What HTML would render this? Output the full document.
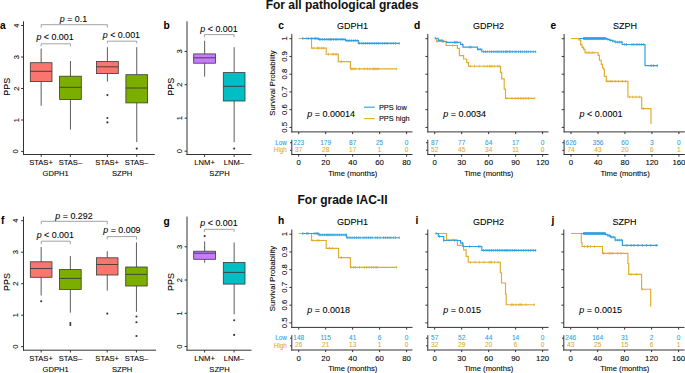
<!DOCTYPE html>
<html><head><meta charset="utf-8"><style>
html,body{margin:0;padding:0;background:#fff;}
svg{display:block;font-family:"Liberation Sans", sans-serif;}
</style></head><body>
<svg width="685" height="373" viewBox="0 0 685 373">
<rect width="685" height="373" fill="#fff"/>
<text x="342" y="8.9" font-size="12" text-anchor="middle" fill="#111" stroke="#111" stroke-width="0.05" font-weight="bold">For all pathological grades</text>
<text x="342.5" y="204.2" font-size="12" text-anchor="middle" fill="#111" stroke="#111" stroke-width="0.05" font-weight="bold">For grade IAC-II</text>
<text x="2.8" y="28.6" font-size="10.2" text-anchor="middle" fill="#000" stroke="#000" stroke-width="0.05" font-weight="bold">a</text>
<text x="9.9" y="86.8" font-size="8.9" text-anchor="middle" fill="#000" stroke="#000" stroke-width="0.08" transform="rotate(-90 9.9 86.8)">PPS</text>
<line x1="23.5" y1="21.3" x2="23.5" y2="155" stroke="#333333" stroke-width="1.0"/>
<line x1="23" y1="154.5" x2="154.8" y2="154.5" stroke="#333333" stroke-width="1.0"/>
<line x1="21.1" y1="151.4" x2="23.5" y2="151.4" stroke="#333333" stroke-width="1.0"/>
<text x="18.5" y="151.4" font-size="7.6" text-anchor="middle" fill="#000" stroke="#000" stroke-width="0.08" transform="rotate(-90 18.5 151.4)">0</text>
<line x1="21.1" y1="120" x2="23.5" y2="120" stroke="#333333" stroke-width="1.0"/>
<text x="18.5" y="120" font-size="7.6" text-anchor="middle" fill="#000" stroke="#000" stroke-width="0.08" transform="rotate(-90 18.5 120)">1</text>
<line x1="21.1" y1="88.5" x2="23.5" y2="88.5" stroke="#333333" stroke-width="1.0"/>
<text x="18.5" y="88.5" font-size="7.6" text-anchor="middle" fill="#000" stroke="#000" stroke-width="0.08" transform="rotate(-90 18.5 88.5)">2</text>
<line x1="21.1" y1="57" x2="23.5" y2="57" stroke="#333333" stroke-width="1.0"/>
<text x="18.5" y="57" font-size="7.6" text-anchor="middle" fill="#000" stroke="#000" stroke-width="0.08" transform="rotate(-90 18.5 57)">3</text>
<line x1="21.1" y1="25.5" x2="23.5" y2="25.5" stroke="#333333" stroke-width="1.0"/>
<text x="18.5" y="25.5" font-size="7.6" text-anchor="middle" fill="#000" stroke="#000" stroke-width="0.08" transform="rotate(-90 18.5 25.5)">4</text>
<line x1="41.2" y1="154.5" x2="41.2" y2="156.8" stroke="#333333" stroke-width="1.0"/>
<line x1="70.4" y1="154.5" x2="70.4" y2="156.8" stroke="#333333" stroke-width="1.0"/>
<line x1="107.4" y1="154.5" x2="107.4" y2="156.8" stroke="#333333" stroke-width="1.0"/>
<line x1="136.7" y1="154.5" x2="136.7" y2="156.8" stroke="#333333" stroke-width="1.0"/>
<text x="41" y="165.4" font-size="7.6" text-anchor="middle" fill="#000" stroke="#000" stroke-width="0.08">STAS+</text>
<text x="70.4" y="165.4" font-size="7.6" text-anchor="middle" fill="#000" stroke="#000" stroke-width="0.08">STAS–</text>
<text x="107.2" y="165.4" font-size="7.6" text-anchor="middle" fill="#000" stroke="#000" stroke-width="0.08">STAS+</text>
<text x="136.6" y="165.4" font-size="7.6" text-anchor="middle" fill="#000" stroke="#000" stroke-width="0.08">STAS–</text>
<text x="55.6" y="176" font-size="7.6" text-anchor="middle" fill="#000" stroke="#000" stroke-width="0.08">GDPH1</text>
<text x="122.1" y="176" font-size="7.6" text-anchor="middle" fill="#000" stroke="#000" stroke-width="0.08">SZPH</text>
<line x1="41.15" y1="48.6" x2="41.15" y2="62.7" stroke="#4a4a4a" stroke-width="0.9"/>
<line x1="41.15" y1="81.6" x2="41.15" y2="105.8" stroke="#4a4a4a" stroke-width="0.9"/>
<rect x="30.3" y="62.7" width="21.7" height="18.9" fill="#F8766D" stroke="#3a3a3a" stroke-width="0.8"/>
<line x1="30.3" y1="71.3" x2="52" y2="71.3" stroke="#3a3a3a" stroke-width="0.9"/>
<line x1="70.45" y1="61" x2="70.45" y2="76.2" stroke="#4a4a4a" stroke-width="0.9"/>
<line x1="70.45" y1="99.5" x2="70.45" y2="129.5" stroke="#4a4a4a" stroke-width="0.9"/>
<rect x="59.6" y="76.2" width="21.7" height="23.3" fill="#7CAE00" stroke="#3a3a3a" stroke-width="0.8"/>
<line x1="59.6" y1="87.3" x2="81.3" y2="87.3" stroke="#3a3a3a" stroke-width="0.9"/>
<line x1="107.4" y1="47.2" x2="107.4" y2="61.5" stroke="#4a4a4a" stroke-width="0.9"/>
<line x1="107.4" y1="73.6" x2="107.4" y2="81.6" stroke="#4a4a4a" stroke-width="0.9"/>
<rect x="96.5" y="61.5" width="21.8" height="12.1" fill="#F8766D" stroke="#3a3a3a" stroke-width="0.8"/>
<line x1="96.5" y1="66.8" x2="118.3" y2="66.8" stroke="#3a3a3a" stroke-width="0.9"/>
<circle cx="107.4" cy="95.1" r="1.05" fill="#333"/>
<circle cx="107.4" cy="118" r="1.05" fill="#333"/>
<circle cx="107.4" cy="122.4" r="1.05" fill="#333"/>
<line x1="136.75" y1="47.2" x2="136.75" y2="74.7" stroke="#4a4a4a" stroke-width="0.9"/>
<line x1="136.75" y1="102.9" x2="136.75" y2="142.1" stroke="#4a4a4a" stroke-width="0.9"/>
<rect x="125.9" y="74.7" width="21.7" height="28.2" fill="#7CAE00" stroke="#3a3a3a" stroke-width="0.8"/>
<line x1="125.9" y1="88" x2="147.6" y2="88" stroke="#3a3a3a" stroke-width="0.9"/>
<circle cx="136.75" cy="148.6" r="1.05" fill="#333"/>
<path d="M41.2 46.4 V43.8 H70.4 V46.4" stroke="#8a8a8a" stroke-width="0.8" fill="none" />
<text x="55.05" y="39.6" font-size="8.9" text-anchor="middle" fill="#000" stroke="#000" stroke-width="0.08"><tspan font-style="italic">p</tspan> &lt; 0.001</text>
<path d="M41.2 27.6 V24.7 H107.4 V27.6" stroke="#8a8a8a" stroke-width="0.8" fill="none" />
<text x="73.5" y="21.8" font-size="8.9" text-anchor="middle" fill="#000" stroke="#000" stroke-width="0.08"><tspan font-style="italic">p</tspan> = 0.1</text>
<path d="M107.4 43.4 V41.2 H136.7 V43.4" stroke="#8a8a8a" stroke-width="0.8" fill="none" />
<text x="121.4" y="37.9" font-size="8.9" text-anchor="middle" fill="#000" stroke="#000" stroke-width="0.08"><tspan font-style="italic">p</tspan> &lt; 0.001</text>
<text x="2.8" y="224.1" font-size="10.2" text-anchor="middle" fill="#000" stroke="#000" stroke-width="0.05" font-weight="bold">f</text>
<text x="9.9" y="282" font-size="8.9" text-anchor="middle" fill="#000" stroke="#000" stroke-width="0.08" transform="rotate(-90 9.9 282)">PPS</text>
<line x1="23.5" y1="216.6" x2="23.5" y2="350.7" stroke="#333333" stroke-width="1.0"/>
<line x1="23" y1="350.2" x2="156" y2="350.2" stroke="#333333" stroke-width="1.0"/>
<line x1="21.1" y1="346.6" x2="23.5" y2="346.6" stroke="#333333" stroke-width="1.0"/>
<text x="18.5" y="346.6" font-size="7.6" text-anchor="middle" fill="#000" stroke="#000" stroke-width="0.08" transform="rotate(-90 18.5 346.6)">0</text>
<line x1="21.1" y1="315.2" x2="23.5" y2="315.2" stroke="#333333" stroke-width="1.0"/>
<text x="18.5" y="315.2" font-size="7.6" text-anchor="middle" fill="#000" stroke="#000" stroke-width="0.08" transform="rotate(-90 18.5 315.2)">1</text>
<line x1="21.1" y1="283.7" x2="23.5" y2="283.7" stroke="#333333" stroke-width="1.0"/>
<text x="18.5" y="283.7" font-size="7.6" text-anchor="middle" fill="#000" stroke="#000" stroke-width="0.08" transform="rotate(-90 18.5 283.7)">2</text>
<line x1="21.1" y1="252.2" x2="23.5" y2="252.2" stroke="#333333" stroke-width="1.0"/>
<text x="18.5" y="252.2" font-size="7.6" text-anchor="middle" fill="#000" stroke="#000" stroke-width="0.08" transform="rotate(-90 18.5 252.2)">3</text>
<line x1="21.1" y1="220.7" x2="23.5" y2="220.7" stroke="#333333" stroke-width="1.0"/>
<text x="18.5" y="220.7" font-size="7.6" text-anchor="middle" fill="#000" stroke="#000" stroke-width="0.08" transform="rotate(-90 18.5 220.7)">4</text>
<line x1="41.2" y1="350.2" x2="41.2" y2="352.5" stroke="#333333" stroke-width="1.0"/>
<line x1="70.4" y1="350.2" x2="70.4" y2="352.5" stroke="#333333" stroke-width="1.0"/>
<line x1="107.2" y1="350.2" x2="107.2" y2="352.5" stroke="#333333" stroke-width="1.0"/>
<line x1="136.4" y1="350.2" x2="136.4" y2="352.5" stroke="#333333" stroke-width="1.0"/>
<text x="41" y="361.3" font-size="7.6" text-anchor="middle" fill="#000" stroke="#000" stroke-width="0.08">STAS+</text>
<text x="70.4" y="361.3" font-size="7.6" text-anchor="middle" fill="#000" stroke="#000" stroke-width="0.08">STAS–</text>
<text x="107.2" y="361.3" font-size="7.6" text-anchor="middle" fill="#000" stroke="#000" stroke-width="0.08">STAS+</text>
<text x="136.6" y="361.3" font-size="7.6" text-anchor="middle" fill="#000" stroke="#000" stroke-width="0.08">STAS–</text>
<text x="55.6" y="371.8" font-size="7.6" text-anchor="middle" fill="#000" stroke="#000" stroke-width="0.08">GDPH1</text>
<text x="122.1" y="371.8" font-size="7.6" text-anchor="middle" fill="#000" stroke="#000" stroke-width="0.08">SZPH</text>
<line x1="41.15" y1="247" x2="41.15" y2="261.8" stroke="#4a4a4a" stroke-width="0.9"/>
<line x1="41.15" y1="277.3" x2="41.15" y2="295.5" stroke="#4a4a4a" stroke-width="0.9"/>
<rect x="30.3" y="261.8" width="21.7" height="15.5" fill="#F8766D" stroke="#3a3a3a" stroke-width="0.8"/>
<line x1="30.3" y1="268.5" x2="52" y2="268.5" stroke="#3a3a3a" stroke-width="0.9"/>
<circle cx="41.15" cy="301.3" r="1.05" fill="#333"/>
<line x1="70.35" y1="256" x2="70.35" y2="269.6" stroke="#4a4a4a" stroke-width="0.9"/>
<line x1="70.35" y1="289.4" x2="70.35" y2="312.6" stroke="#4a4a4a" stroke-width="0.9"/>
<rect x="59.5" y="269.6" width="21.7" height="19.8" fill="#7CAE00" stroke="#3a3a3a" stroke-width="0.8"/>
<line x1="59.5" y1="278.4" x2="81.2" y2="278.4" stroke="#3a3a3a" stroke-width="0.9"/>
<circle cx="70.35" cy="323" r="1.05" fill="#333"/>
<circle cx="70.35" cy="325" r="1.05" fill="#333"/>
<line x1="107.25" y1="251.2" x2="107.25" y2="257.8" stroke="#4a4a4a" stroke-width="0.9"/>
<line x1="107.25" y1="275" x2="107.25" y2="290.6" stroke="#4a4a4a" stroke-width="0.9"/>
<rect x="96.5" y="257.8" width="21.5" height="17.2" fill="#F8766D" stroke="#3a3a3a" stroke-width="0.8"/>
<line x1="96.5" y1="264.5" x2="118" y2="264.5" stroke="#3a3a3a" stroke-width="0.9"/>
<circle cx="107.25" cy="313.6" r="1.05" fill="#333"/>
<line x1="136.45" y1="242.4" x2="136.45" y2="267" stroke="#4a4a4a" stroke-width="0.9"/>
<line x1="136.45" y1="286" x2="136.45" y2="311.8" stroke="#4a4a4a" stroke-width="0.9"/>
<rect x="125.7" y="267" width="21.5" height="19" fill="#7CAE00" stroke="#3a3a3a" stroke-width="0.8"/>
<line x1="125.7" y1="274.4" x2="147.2" y2="274.4" stroke="#3a3a3a" stroke-width="0.9"/>
<circle cx="136.45" cy="316.5" r="1.05" fill="#333"/>
<circle cx="136.45" cy="322.3" r="1.05" fill="#333"/>
<circle cx="136.45" cy="336" r="1.05" fill="#333"/>
<path d="M41.3 244.3 V241.2 H70.3 V244.3" stroke="#8a8a8a" stroke-width="0.8" fill="none" />
<text x="55.3" y="238" font-size="8.9" text-anchor="middle" fill="#000" stroke="#000" stroke-width="0.08"><tspan font-style="italic">p</tspan> &lt; 0.001</text>
<path d="M41.3 224.3 V221.3 H107.2 V224.3" stroke="#8a8a8a" stroke-width="0.8" fill="none" />
<text x="74" y="218.8" font-size="8.9" text-anchor="middle" fill="#000" stroke="#000" stroke-width="0.08"><tspan font-style="italic">p</tspan> = 0.292</text>
<path d="M107.2 239.4 V236.6 H136.5 V239.4" stroke="#8a8a8a" stroke-width="0.8" fill="none" />
<text x="121.9" y="233.3" font-size="8.9" text-anchor="middle" fill="#000" stroke="#000" stroke-width="0.08"><tspan font-style="italic">p</tspan> = 0.009</text>
<text x="166.6" y="28.6" font-size="10.2" text-anchor="middle" fill="#000" stroke="#000" stroke-width="0.05" font-weight="bold">b</text>
<text x="174" y="86.8" font-size="8.9" text-anchor="middle" fill="#000" stroke="#000" stroke-width="0.08" transform="rotate(-90 174 86.8)">PPS</text>
<line x1="187" y1="21.3" x2="187" y2="155" stroke="#333333" stroke-width="1.0"/>
<line x1="186.5" y1="154.5" x2="251.5" y2="154.5" stroke="#333333" stroke-width="1.0"/>
<line x1="184.6" y1="151.2" x2="187" y2="151.2" stroke="#333333" stroke-width="1.0"/>
<text x="182" y="151.2" font-size="7.6" text-anchor="middle" fill="#000" stroke="#000" stroke-width="0.08" transform="rotate(-90 182 151.2)">0</text>
<line x1="184.6" y1="118.1" x2="187" y2="118.1" stroke="#333333" stroke-width="1.0"/>
<text x="182" y="118.1" font-size="7.6" text-anchor="middle" fill="#000" stroke="#000" stroke-width="0.08" transform="rotate(-90 182 118.1)">1</text>
<line x1="184.6" y1="84.7" x2="187" y2="84.7" stroke="#333333" stroke-width="1.0"/>
<text x="182" y="84.7" font-size="7.6" text-anchor="middle" fill="#000" stroke="#000" stroke-width="0.08" transform="rotate(-90 182 84.7)">2</text>
<line x1="184.6" y1="51.4" x2="187" y2="51.4" stroke="#333333" stroke-width="1.0"/>
<text x="182" y="51.4" font-size="7.6" text-anchor="middle" fill="#000" stroke="#000" stroke-width="0.08" transform="rotate(-90 182 51.4)">3</text>
<line x1="204.6" y1="154.5" x2="204.6" y2="156.8" stroke="#333333" stroke-width="1.0"/>
<line x1="234.1" y1="154.5" x2="234.1" y2="156.8" stroke="#333333" stroke-width="1.0"/>
<text x="204.6" y="165.4" font-size="7.6" text-anchor="middle" fill="#000" stroke="#000" stroke-width="0.08">LNM+</text>
<text x="233.9" y="165.4" font-size="7.6" text-anchor="middle" fill="#000" stroke="#000" stroke-width="0.08">LNM–</text>
<text x="219.5" y="176" font-size="7.6" text-anchor="middle" fill="#000" stroke="#000" stroke-width="0.08">SZPH</text>
<line x1="204.65" y1="40.7" x2="204.65" y2="53.9" stroke="#4a4a4a" stroke-width="0.9"/>
<line x1="204.65" y1="63.2" x2="204.65" y2="76.6" stroke="#4a4a4a" stroke-width="0.9"/>
<rect x="193.7" y="53.9" width="21.9" height="9.3" fill="#C77CFF" stroke="#3a3a3a" stroke-width="0.8"/>
<line x1="193.7" y1="57.8" x2="215.6" y2="57.8" stroke="#3a3a3a" stroke-width="0.9"/>
<line x1="234.15" y1="47.2" x2="234.15" y2="72.6" stroke="#4a4a4a" stroke-width="0.9"/>
<line x1="234.15" y1="101" x2="234.15" y2="142.2" stroke="#4a4a4a" stroke-width="0.9"/>
<rect x="223.3" y="72.6" width="21.7" height="28.4" fill="#00BFC4" stroke="#3a3a3a" stroke-width="0.8"/>
<line x1="223.3" y1="86.3" x2="245" y2="86.3" stroke="#3a3a3a" stroke-width="0.9"/>
<circle cx="234.15" cy="148.6" r="1.05" fill="#333"/>
<path d="M204.4 37.3 V34.6 H234.1 V37.3" stroke="#8a8a8a" stroke-width="0.8" fill="none" />
<text x="219" y="31.6" font-size="8.9" text-anchor="middle" fill="#000" stroke="#000" stroke-width="0.08"><tspan font-style="italic">p</tspan> &lt; 0.001</text>
<text x="166.6" y="224.7" font-size="10.2" text-anchor="middle" fill="#000" stroke="#000" stroke-width="0.05" font-weight="bold">g</text>
<text x="174" y="282" font-size="8.9" text-anchor="middle" fill="#000" stroke="#000" stroke-width="0.08" transform="rotate(-90 174 282)">PPS</text>
<line x1="187" y1="216.5" x2="187" y2="350.7" stroke="#333333" stroke-width="1.0"/>
<line x1="186.5" y1="350.2" x2="251.5" y2="350.2" stroke="#333333" stroke-width="1.0"/>
<line x1="184.6" y1="346.5" x2="187" y2="346.5" stroke="#333333" stroke-width="1.0"/>
<text x="182" y="346.5" font-size="7.6" text-anchor="middle" fill="#000" stroke="#000" stroke-width="0.08" transform="rotate(-90 182 346.5)">0</text>
<line x1="184.6" y1="313.3" x2="187" y2="313.3" stroke="#333333" stroke-width="1.0"/>
<text x="182" y="313.3" font-size="7.6" text-anchor="middle" fill="#000" stroke="#000" stroke-width="0.08" transform="rotate(-90 182 313.3)">1</text>
<line x1="184.6" y1="280" x2="187" y2="280" stroke="#333333" stroke-width="1.0"/>
<text x="182" y="280" font-size="7.6" text-anchor="middle" fill="#000" stroke="#000" stroke-width="0.08" transform="rotate(-90 182 280)">2</text>
<line x1="184.6" y1="246.8" x2="187" y2="246.8" stroke="#333333" stroke-width="1.0"/>
<text x="182" y="246.8" font-size="7.6" text-anchor="middle" fill="#000" stroke="#000" stroke-width="0.08" transform="rotate(-90 182 246.8)">3</text>
<line x1="204.6" y1="350.2" x2="204.6" y2="352.5" stroke="#333333" stroke-width="1.0"/>
<line x1="234.1" y1="350.2" x2="234.1" y2="352.5" stroke="#333333" stroke-width="1.0"/>
<text x="204.6" y="361.3" font-size="7.6" text-anchor="middle" fill="#000" stroke="#000" stroke-width="0.08">LNM+</text>
<text x="233.9" y="361.3" font-size="7.6" text-anchor="middle" fill="#000" stroke="#000" stroke-width="0.08">LNM–</text>
<text x="219.5" y="371.8" font-size="7.6" text-anchor="middle" fill="#000" stroke="#000" stroke-width="0.08">SZPH</text>
<line x1="204.65" y1="241.4" x2="204.65" y2="251.2" stroke="#4a4a4a" stroke-width="0.9"/>
<line x1="204.65" y1="259.3" x2="204.65" y2="262.8" stroke="#4a4a4a" stroke-width="0.9"/>
<rect x="193.7" y="251.2" width="21.9" height="8.1" fill="#C77CFF" stroke="#3a3a3a" stroke-width="0.8"/>
<line x1="193.7" y1="253.2" x2="215.6" y2="253.2" stroke="#3a3a3a" stroke-width="0.9"/>
<circle cx="204.65" cy="236.1" r="1.05" fill="#333"/>
<line x1="234.15" y1="242.5" x2="234.15" y2="262.5" stroke="#4a4a4a" stroke-width="0.9"/>
<line x1="234.15" y1="284.1" x2="234.15" y2="314.3" stroke="#4a4a4a" stroke-width="0.9"/>
<rect x="223.3" y="262.5" width="21.7" height="21.6" fill="#00BFC4" stroke="#3a3a3a" stroke-width="0.8"/>
<line x1="223.3" y1="272.4" x2="245" y2="272.4" stroke="#3a3a3a" stroke-width="0.9"/>
<circle cx="234.15" cy="320.2" r="1.05" fill="#333"/>
<circle cx="234.15" cy="334.9" r="1.05" fill="#333"/>
<path d="M204.4 231.9 V229.3 H234.1 V231.9" stroke="#8a8a8a" stroke-width="0.8" fill="none" />
<text x="219" y="226.4" font-size="8.9" text-anchor="middle" fill="#000" stroke="#000" stroke-width="0.08"><tspan font-style="italic">p</tspan> &lt; 0.001</text>
<text x="281" y="28.6" font-size="10.2" text-anchor="middle" fill="#000" stroke="#000" stroke-width="0.05" font-weight="bold">c</text>
<text x="352.6" y="29.2" font-size="9.0" text-anchor="middle" fill="#000" stroke="#000" stroke-width="0.08">GDPH1</text>
<line x1="291.8" y1="34" x2="291.8" y2="132.4" stroke="#333333" stroke-width="1.0"/>
<line x1="291.3" y1="131.9" x2="412.5" y2="131.9" stroke="#333333" stroke-width="1.0"/>
<line x1="289.4" y1="38.7" x2="291.8" y2="38.7" stroke="#333333" stroke-width="1.0"/>
<text x="286.6" y="38.7" font-size="7.7" text-anchor="middle" fill="#000" stroke="#000" stroke-width="0.08" transform="rotate(-90 286.6 38.7)">1</text>
<line x1="289.4" y1="56.44" x2="291.8" y2="56.44" stroke="#333333" stroke-width="1.0"/>
<text x="286.6" y="56.44" font-size="7.7" text-anchor="middle" fill="#000" stroke="#000" stroke-width="0.08" transform="rotate(-90 286.6 56.44)">0.9</text>
<line x1="289.4" y1="74.18" x2="291.8" y2="74.18" stroke="#333333" stroke-width="1.0"/>
<text x="286.6" y="74.18" font-size="7.7" text-anchor="middle" fill="#000" stroke="#000" stroke-width="0.08" transform="rotate(-90 286.6 74.18)">0.8</text>
<line x1="289.4" y1="91.92" x2="291.8" y2="91.92" stroke="#333333" stroke-width="1.0"/>
<text x="286.6" y="91.92" font-size="7.7" text-anchor="middle" fill="#000" stroke="#000" stroke-width="0.08" transform="rotate(-90 286.6 91.92)">0.7</text>
<line x1="289.4" y1="109.66" x2="291.8" y2="109.66" stroke="#333333" stroke-width="1.0"/>
<text x="286.6" y="109.66" font-size="7.7" text-anchor="middle" fill="#000" stroke="#000" stroke-width="0.08" transform="rotate(-90 286.6 109.66)">0.6</text>
<line x1="289.4" y1="127.4" x2="291.8" y2="127.4" stroke="#333333" stroke-width="1.0"/>
<text x="286.6" y="127.4" font-size="7.7" text-anchor="middle" fill="#000" stroke="#000" stroke-width="0.08" transform="rotate(-90 286.6 127.4)">0.5</text>
<line x1="298.7" y1="131.9" x2="298.7" y2="134.1" stroke="#333333" stroke-width="1.0"/>
<line x1="325.68" y1="131.9" x2="325.68" y2="134.1" stroke="#333333" stroke-width="1.0"/>
<line x1="352.65" y1="131.9" x2="352.65" y2="134.1" stroke="#333333" stroke-width="1.0"/>
<line x1="379.62" y1="131.9" x2="379.62" y2="134.1" stroke="#333333" stroke-width="1.0"/>
<line x1="406.6" y1="131.9" x2="406.6" y2="134.1" stroke="#333333" stroke-width="1.0"/>
<text x="275.3" y="83" font-size="7.7" text-anchor="middle" fill="#000" stroke="#000" stroke-width="0.08" transform="rotate(-90 275.3 83)">Survival Probability</text>
<path d="M298.7 38.5H311.5V48.1H326.2V54.2H338.3V61.6H350.4V68.9H396.7" stroke="#E2AB2B" stroke-width="1.15" fill="none" stroke-linejoin="miter"/>
<path d="M302 38.5H318.4V39.4H345.5V40.6H358.3V43.3H399.3" stroke="#2E9FDF" stroke-width="1.15" fill="none" stroke-linejoin="miter"/>
<path d="M302.7 37.2V39.8M306.9 37.2V39.8M308.7 37.2V39.8M311.1 37.2V39.8M312 37.2V39.8M314.2 37.2V39.8M315.4 37.2V39.8M316.8 37.2V39.8M318.2 37.2V39.8M319.5 38.1V40.7M320.8 38.1V40.7M322.6 38.1V40.7M324.4 38.1V40.7M326.2 38.1V40.7M328 38.1V40.7M329.3 38.1V40.7M330.5 38.1V40.7M331.7 38.1V40.7M333.5 38.1V40.7M335.3 38.1V40.7M336.5 38.1V40.7M338.3 38.1V40.7M340.1 38.1V40.7M341.9 38.1V40.7M343.1 38.1V40.7M345 38.1V40.7M346.8 39.3V41.9M348 39.3V41.9M349.8 39.3V41.9M351.6 39.3V41.9M353.5 39.3V41.9M355.3 39.3V41.9M357.1 39.3V41.9M359.5 42V44.6M361.9 42V44.6M363.7 42V44.6M365.5 42V44.6M367.3 42V44.6M369.2 42V44.6M371 42V44.6M372.8 42V44.6M374.6 42V44.6M376.4 42V44.6M378.2 42V44.6M380 42V44.6M382.4 42V44.6M384.3 42V44.6M386.1 42V44.6M387.9 42V44.6M390.9 42V44.6M393.3 42V44.6M395.7 42V44.6M399.3 42V44.6" stroke="#2E9FDF" stroke-width="0.8" fill="none" />
<path d="M313 46.8V49.4M317.5 46.8V49.4M319 46.8V49.4M321.6 46.8V49.4M323.8 46.8V49.4M328.4 52.9V55.5M332.3 52.9V55.5M333.7 52.9V55.5M335.7 52.9V55.5M336.9 52.9V55.5M341.3 60.3V62.9M351 67.6V70.2M352.2 67.6V70.2M354.1 67.6V70.2M355.3 67.6V70.2M359.5 67.6V70.2M364.3 67.6V70.2M367.3 67.6V70.2M369.8 67.6V70.2M372.8 67.6V70.2M374 67.6V70.2M375.2 67.6V70.2M377 67.6V70.2M378.2 67.6V70.2M396.7 67.6V70.2" stroke="#E2AB2B" stroke-width="0.8" fill="none" />
<text x="307.3" y="117.3" font-size="9.0" text-anchor="start" fill="#000" stroke="#000" stroke-width="0.08"><tspan font-style="italic">p</tspan> = 0.00014</text>
<line x1="291.8" y1="139.7" x2="291.8" y2="155" stroke="#333333" stroke-width="1.0"/>
<line x1="291.3" y1="154.5" x2="412.5" y2="154.5" stroke="#333333" stroke-width="1.0"/>
<line x1="290" y1="142.7" x2="291.8" y2="142.7" stroke="#333333" stroke-width="1.0"/>
<line x1="290" y1="150.3" x2="291.8" y2="150.3" stroke="#333333" stroke-width="1.0"/>
<text x="286.8" y="144.7" font-size="6.3" text-anchor="end" fill="#2E9FDF" stroke="#2E9FDF" stroke-width="0.08">Low</text>
<text x="286.8" y="152" font-size="6.3" text-anchor="end" fill="#E2AB2B" stroke="#E2AB2B" stroke-width="0.08">High</text>
<line x1="298.7" y1="154.5" x2="298.7" y2="156.6" stroke="#333333" stroke-width="1.0"/>
<text x="298.7" y="144.6" font-size="6.5" text-anchor="middle" fill="#2E9FDF" stroke="#2E9FDF" stroke-width="0.08">223</text>
<text x="298.7" y="151.9" font-size="6.5" text-anchor="middle" fill="#E2AB2B" stroke="#E2AB2B" stroke-width="0.08">37</text>
<text x="298.7" y="165.4" font-size="7.8" text-anchor="middle" fill="#000" stroke="#000" stroke-width="0.08">0</text>
<line x1="325.68" y1="154.5" x2="325.68" y2="156.6" stroke="#333333" stroke-width="1.0"/>
<text x="325.68" y="144.6" font-size="6.5" text-anchor="middle" fill="#2E9FDF" stroke="#2E9FDF" stroke-width="0.08">179</text>
<text x="325.68" y="151.9" font-size="6.5" text-anchor="middle" fill="#E2AB2B" stroke="#E2AB2B" stroke-width="0.08">28</text>
<text x="325.68" y="165.4" font-size="7.8" text-anchor="middle" fill="#000" stroke="#000" stroke-width="0.08">20</text>
<line x1="352.65" y1="154.5" x2="352.65" y2="156.6" stroke="#333333" stroke-width="1.0"/>
<text x="352.65" y="144.6" font-size="6.5" text-anchor="middle" fill="#2E9FDF" stroke="#2E9FDF" stroke-width="0.08">87</text>
<text x="352.65" y="151.9" font-size="6.5" text-anchor="middle" fill="#E2AB2B" stroke="#E2AB2B" stroke-width="0.08">17</text>
<text x="352.65" y="165.4" font-size="7.8" text-anchor="middle" fill="#000" stroke="#000" stroke-width="0.08">40</text>
<line x1="379.62" y1="154.5" x2="379.62" y2="156.6" stroke="#333333" stroke-width="1.0"/>
<text x="379.62" y="144.6" font-size="6.5" text-anchor="middle" fill="#2E9FDF" stroke="#2E9FDF" stroke-width="0.08">25</text>
<text x="379.62" y="151.9" font-size="6.5" text-anchor="middle" fill="#E2AB2B" stroke="#E2AB2B" stroke-width="0.08">1</text>
<text x="379.62" y="165.4" font-size="7.8" text-anchor="middle" fill="#000" stroke="#000" stroke-width="0.08">60</text>
<line x1="406.6" y1="154.5" x2="406.6" y2="156.6" stroke="#333333" stroke-width="1.0"/>
<text x="406.6" y="144.6" font-size="6.5" text-anchor="middle" fill="#2E9FDF" stroke="#2E9FDF" stroke-width="0.08">0</text>
<text x="406.6" y="151.9" font-size="6.5" text-anchor="middle" fill="#E2AB2B" stroke="#E2AB2B" stroke-width="0.08">0</text>
<text x="406.6" y="165.4" font-size="7.8" text-anchor="middle" fill="#000" stroke="#000" stroke-width="0.08">80</text>
<text x="352.8" y="175.9" font-size="7.7" text-anchor="middle" fill="#000" stroke="#000" stroke-width="0.08">Time (months)</text>
<line x1="364" y1="107.2" x2="374.8" y2="107.2" stroke="#2E9FDF" stroke-width="1.1"/>
<line x1="364" y1="118.6" x2="374.8" y2="118.6" stroke="#E2AB2B" stroke-width="1.1"/>
<text x="378.9" y="109.5" font-size="7.4" text-anchor="start" fill="#000" stroke="#000" stroke-width="0.08">PPS low</text>
<text x="378.9" y="120.9" font-size="7.4" text-anchor="start" fill="#000" stroke="#000" stroke-width="0.08">PPS high</text>
<text x="417" y="28.6" font-size="10.2" text-anchor="middle" fill="#000" stroke="#000" stroke-width="0.05" font-weight="bold">d</text>
<text x="488.6" y="29.2" font-size="9.0" text-anchor="middle" fill="#000" stroke="#000" stroke-width="0.08">GDPH2</text>
<line x1="427.8" y1="34" x2="427.8" y2="132.4" stroke="#333333" stroke-width="1.0"/>
<line x1="427.3" y1="131.9" x2="548.5" y2="131.9" stroke="#333333" stroke-width="1.0"/>
<line x1="425.4" y1="38.7" x2="427.8" y2="38.7" stroke="#333333" stroke-width="1.0"/>
<line x1="425.4" y1="56.44" x2="427.8" y2="56.44" stroke="#333333" stroke-width="1.0"/>
<line x1="425.4" y1="74.18" x2="427.8" y2="74.18" stroke="#333333" stroke-width="1.0"/>
<line x1="425.4" y1="91.92" x2="427.8" y2="91.92" stroke="#333333" stroke-width="1.0"/>
<line x1="425.4" y1="109.66" x2="427.8" y2="109.66" stroke="#333333" stroke-width="1.0"/>
<line x1="425.4" y1="127.4" x2="427.8" y2="127.4" stroke="#333333" stroke-width="1.0"/>
<line x1="434.7" y1="131.9" x2="434.7" y2="134.1" stroke="#333333" stroke-width="1.0"/>
<line x1="461.68" y1="131.9" x2="461.68" y2="134.1" stroke="#333333" stroke-width="1.0"/>
<line x1="488.65" y1="131.9" x2="488.65" y2="134.1" stroke="#333333" stroke-width="1.0"/>
<line x1="515.62" y1="131.9" x2="515.62" y2="134.1" stroke="#333333" stroke-width="1.0"/>
<line x1="542.6" y1="131.9" x2="542.6" y2="134.1" stroke="#333333" stroke-width="1.0"/>
<path d="M435.9 39H436.5V41.5H446.1V45.5H457.4V48.4H459.4V55.6H463.6V59H466.7V62.6H468.5V66.2H500.5V72.3H501.7V78.9H504.2V89.1H505.5V98.4H534.8" stroke="#E2AB2B" stroke-width="1.15" fill="none" stroke-linejoin="miter"/>
<path d="M434.7 38.2H438.3V40.3H443.1V41.5H446.7V42.3H460.6V44.5H463V47.1H477.5V49.3H481.8V51.7H536.2" stroke="#2E9FDF" stroke-width="1.15" fill="none" stroke-linejoin="miter"/>
<path d="M435.3 36.9V39.5M438.9 39V41.6M441.3 39V41.6M443.1 40.2V42.8M454.6 41V43.6M455.8 41V43.6M457 41V43.6M462.4 43.2V45.8M469.7 45.8V48.4M470.9 45.8V48.4M478.1 48V50.6M480.2 48V50.6M483.6 50.4V53M485.4 50.4V53M487.2 50.4V53M489.7 50.4V53M491.5 50.4V53M493.3 50.4V53M495.1 50.4V53M496.9 50.4V53M498.1 50.4V53M499.9 50.4V53M501.7 50.4V53M503.6 50.4V53M505.4 50.4V53M506.6 50.4V53M507.8 50.4V53M509.6 50.4V53M510.8 50.4V53M512.6 50.4V53M515 50.4V53M516.2 50.4V53M518.6 50.4V53M520.5 50.4V53M522.3 50.4V53M524.7 50.4V53M526.5 50.4V53M528.3 50.4V53M530.7 50.4V53M533.1 50.4V53M535.6 50.4V53" stroke="#2E9FDF" stroke-width="0.8" fill="none" />
<path d="M437.1 40.2V42.8M441.9 40.2V42.8M444.9 40.2V42.8M452.8 44.2V46.8M470.3 64.9V67.5M474.5 64.9V67.5M479.3 64.9V67.5M484.2 64.9V67.5M487.2 64.9V67.5M489.7 64.9V67.5M490.9 64.9V67.5M492.1 64.9V67.5M494.5 64.9V67.5M497.5 64.9V67.5M499.3 64.9V67.5M506.8 97.1V99.7M511.9 97.1V99.7M515.7 97.1V99.7M518.2 97.1V99.7M520.8 97.1V99.7M523.3 97.1V99.7M525.9 97.1V99.7M528.4 97.1V99.7M534.8 97.1V99.7" stroke="#E2AB2B" stroke-width="0.8" fill="none" />
<text x="443.3" y="117.3" font-size="9.0" text-anchor="start" fill="#000" stroke="#000" stroke-width="0.08"><tspan font-style="italic">p</tspan> = 0.0034</text>
<line x1="427.8" y1="139.7" x2="427.8" y2="155" stroke="#333333" stroke-width="1.0"/>
<line x1="427.3" y1="154.5" x2="548.5" y2="154.5" stroke="#333333" stroke-width="1.0"/>
<line x1="426" y1="142.7" x2="427.8" y2="142.7" stroke="#333333" stroke-width="1.0"/>
<line x1="426" y1="150.3" x2="427.8" y2="150.3" stroke="#333333" stroke-width="1.0"/>
<line x1="434.7" y1="154.5" x2="434.7" y2="156.6" stroke="#333333" stroke-width="1.0"/>
<text x="434.7" y="144.6" font-size="6.5" text-anchor="middle" fill="#2E9FDF" stroke="#2E9FDF" stroke-width="0.08">87</text>
<text x="434.7" y="151.9" font-size="6.5" text-anchor="middle" fill="#E2AB2B" stroke="#E2AB2B" stroke-width="0.08">52</text>
<text x="434.7" y="165.4" font-size="7.8" text-anchor="middle" fill="#000" stroke="#000" stroke-width="0.08">0</text>
<line x1="461.68" y1="154.5" x2="461.68" y2="156.6" stroke="#333333" stroke-width="1.0"/>
<text x="461.68" y="144.6" font-size="6.5" text-anchor="middle" fill="#2E9FDF" stroke="#2E9FDF" stroke-width="0.08">77</text>
<text x="461.68" y="151.9" font-size="6.5" text-anchor="middle" fill="#E2AB2B" stroke="#E2AB2B" stroke-width="0.08">45</text>
<text x="461.68" y="165.4" font-size="7.8" text-anchor="middle" fill="#000" stroke="#000" stroke-width="0.08">30</text>
<line x1="488.65" y1="154.5" x2="488.65" y2="156.6" stroke="#333333" stroke-width="1.0"/>
<text x="488.65" y="144.6" font-size="6.5" text-anchor="middle" fill="#2E9FDF" stroke="#2E9FDF" stroke-width="0.08">64</text>
<text x="488.65" y="151.9" font-size="6.5" text-anchor="middle" fill="#E2AB2B" stroke="#E2AB2B" stroke-width="0.08">34</text>
<text x="488.65" y="165.4" font-size="7.8" text-anchor="middle" fill="#000" stroke="#000" stroke-width="0.08">60</text>
<line x1="515.62" y1="154.5" x2="515.62" y2="156.6" stroke="#333333" stroke-width="1.0"/>
<text x="515.62" y="144.6" font-size="6.5" text-anchor="middle" fill="#2E9FDF" stroke="#2E9FDF" stroke-width="0.08">17</text>
<text x="515.62" y="151.9" font-size="6.5" text-anchor="middle" fill="#E2AB2B" stroke="#E2AB2B" stroke-width="0.08">11</text>
<text x="515.62" y="165.4" font-size="7.8" text-anchor="middle" fill="#000" stroke="#000" stroke-width="0.08">90</text>
<line x1="542.6" y1="154.5" x2="542.6" y2="156.6" stroke="#333333" stroke-width="1.0"/>
<text x="542.6" y="144.6" font-size="6.5" text-anchor="middle" fill="#2E9FDF" stroke="#2E9FDF" stroke-width="0.08">0</text>
<text x="542.6" y="151.9" font-size="6.5" text-anchor="middle" fill="#E2AB2B" stroke="#E2AB2B" stroke-width="0.08">0</text>
<text x="542.6" y="165.4" font-size="7.8" text-anchor="middle" fill="#000" stroke="#000" stroke-width="0.08">120</text>
<text x="488.8" y="175.9" font-size="7.7" text-anchor="middle" fill="#000" stroke="#000" stroke-width="0.08">Time (months)</text>
<text x="553.3" y="28.6" font-size="10.2" text-anchor="middle" fill="#000" stroke="#000" stroke-width="0.05" font-weight="bold">e</text>
<text x="624.9" y="29.2" font-size="9.0" text-anchor="middle" fill="#000" stroke="#000" stroke-width="0.08">SZPH</text>
<line x1="564.1" y1="34" x2="564.1" y2="132.4" stroke="#333333" stroke-width="1.0"/>
<line x1="563.6" y1="131.9" x2="684.8" y2="131.9" stroke="#333333" stroke-width="1.0"/>
<line x1="561.7" y1="38.7" x2="564.1" y2="38.7" stroke="#333333" stroke-width="1.0"/>
<line x1="561.7" y1="56.44" x2="564.1" y2="56.44" stroke="#333333" stroke-width="1.0"/>
<line x1="561.7" y1="74.18" x2="564.1" y2="74.18" stroke="#333333" stroke-width="1.0"/>
<line x1="561.7" y1="91.92" x2="564.1" y2="91.92" stroke="#333333" stroke-width="1.0"/>
<line x1="561.7" y1="109.66" x2="564.1" y2="109.66" stroke="#333333" stroke-width="1.0"/>
<line x1="561.7" y1="127.4" x2="564.1" y2="127.4" stroke="#333333" stroke-width="1.0"/>
<line x1="571" y1="131.9" x2="571" y2="134.1" stroke="#333333" stroke-width="1.0"/>
<line x1="597.98" y1="131.9" x2="597.98" y2="134.1" stroke="#333333" stroke-width="1.0"/>
<line x1="624.95" y1="131.9" x2="624.95" y2="134.1" stroke="#333333" stroke-width="1.0"/>
<line x1="651.92" y1="131.9" x2="651.92" y2="134.1" stroke="#333333" stroke-width="1.0"/>
<line x1="678.9" y1="131.9" x2="678.9" y2="134.1" stroke="#333333" stroke-width="1.0"/>
<path d="M571 38.5H578.9V39.9H580.7V44.5H582V47.5H583.7V49.3H585V52.7H598.2V55.4H599.4V60.2H601.3V64.4H602.5V68H603.7V69.3H604.3V76.4H606.3V81.3H627.9V97H641.7V108.6H651V123.9" stroke="#E2AB2B" stroke-width="1.15" fill="none" stroke-linejoin="miter"/>
<path d="M578.9 38.5H606.7V39.4H609.7V40.3H612.7V41.1H615.1V42.1H622.2V44.5H645V65.6H657.9" stroke="#2E9FDF" stroke-width="1.15" fill="none" stroke-linejoin="miter"/>
<path d="M583.5 37.2V39.8M584.2 37.2V39.8M584.9 37.2V39.8M585.6 37.2V39.8M586.3 37.2V39.8M587 37.2V39.8M587.7 37.2V39.8M588.4 37.2V39.8M589.1 37.2V39.8M589.8 37.2V39.8M590.5 37.2V39.8M591.2 37.2V39.8M591.9 37.2V39.8M592.6 37.2V39.8M593.3 37.2V39.8M594 37.2V39.8M594.7 37.2V39.8M595.4 37.2V39.8M596.1 37.2V39.8M596.8 37.2V39.8M597.5 37.2V39.8M598.2 37.2V39.8M598.9 37.2V39.8M599.6 37.2V39.8M600.3 37.2V39.8M601 37.2V39.8M601.7 37.2V39.8M602.4 37.2V39.8M603.1 37.2V39.8M603.8 37.2V39.8M604.5 37.2V39.8M605.2 37.2V39.8M605.9 37.2V39.8M584.3 37.2V39.8M585.5 37.2V39.8M586.7 37.2V39.8M587.9 37.2V39.8M589.1 37.2V39.8M590.3 37.2V39.8M591.5 37.2V39.8M592.7 37.2V39.8M593.9 37.2V39.8M595.1 37.2V39.8M596.3 37.2V39.8M597.5 37.2V39.8M598.7 37.2V39.8M599.9 37.2V39.8M601.1 37.2V39.8M602.3 37.2V39.8M603.5 37.2V39.8M604.7 37.2V39.8M607.9 38.1V40.7M610.3 39V41.6M612.7 39.8V42.4M615.7 40.8V43.4M617.6 40.8V43.4M619.4 40.8V43.4M621.2 40.8V43.4M624.7 43.2V45.8M626.5 43.2V45.8M631.9 43.2V45.8M633.7 43.2V45.8M636.1 43.2V45.8M637.9 43.2V45.8M639.8 43.2V45.8M641.6 43.2V45.8M643.4 43.2V45.8M651.2 64.3V66.9M653.6 64.3V66.9M657.3 64.3V66.9" stroke="#2E9FDF" stroke-width="0.8" fill="none" />
<path d="M580.7 43.2V45.8M583.1 46.2V48.8M586.2 51.4V54M588 51.4V54M589.8 51.4V54M592.2 51.4V54M594 51.4V54M607.9 80V82.6M610.3 80V82.6M612 80V82.6M615.1 80V82.6M618.3 80V82.6M622.4 80V82.6M625.6 80V82.6M629.6 95.7V98.3M632.8 95.7V98.3M636 95.7V98.3M639.3 95.7V98.3M643.3 107.3V109.9" stroke="#E2AB2B" stroke-width="0.8" fill="none" />
<text x="579.6" y="117.3" font-size="9.0" text-anchor="start" fill="#000" stroke="#000" stroke-width="0.08"><tspan font-style="italic">p</tspan> &lt; 0.0001</text>
<line x1="564.1" y1="139.7" x2="564.1" y2="155" stroke="#333333" stroke-width="1.0"/>
<line x1="563.6" y1="154.5" x2="684.8" y2="154.5" stroke="#333333" stroke-width="1.0"/>
<line x1="562.3" y1="142.7" x2="564.1" y2="142.7" stroke="#333333" stroke-width="1.0"/>
<line x1="562.3" y1="150.3" x2="564.1" y2="150.3" stroke="#333333" stroke-width="1.0"/>
<line x1="571" y1="154.5" x2="571" y2="156.6" stroke="#333333" stroke-width="1.0"/>
<text x="571" y="144.6" font-size="6.5" text-anchor="middle" fill="#2E9FDF" stroke="#2E9FDF" stroke-width="0.08">626</text>
<text x="571" y="151.9" font-size="6.5" text-anchor="middle" fill="#E2AB2B" stroke="#E2AB2B" stroke-width="0.08">74</text>
<text x="571" y="165.4" font-size="7.8" text-anchor="middle" fill="#000" stroke="#000" stroke-width="0.08">0</text>
<line x1="597.98" y1="154.5" x2="597.98" y2="156.6" stroke="#333333" stroke-width="1.0"/>
<text x="597.98" y="144.6" font-size="6.5" text-anchor="middle" fill="#2E9FDF" stroke="#2E9FDF" stroke-width="0.08">356</text>
<text x="597.98" y="151.9" font-size="6.5" text-anchor="middle" fill="#E2AB2B" stroke="#E2AB2B" stroke-width="0.08">43</text>
<text x="597.98" y="165.4" font-size="7.8" text-anchor="middle" fill="#000" stroke="#000" stroke-width="0.08">40</text>
<line x1="624.95" y1="154.5" x2="624.95" y2="156.6" stroke="#333333" stroke-width="1.0"/>
<text x="624.95" y="144.6" font-size="6.5" text-anchor="middle" fill="#2E9FDF" stroke="#2E9FDF" stroke-width="0.08">60</text>
<text x="624.95" y="151.9" font-size="6.5" text-anchor="middle" fill="#E2AB2B" stroke="#E2AB2B" stroke-width="0.08">20</text>
<text x="624.95" y="165.4" font-size="7.8" text-anchor="middle" fill="#000" stroke="#000" stroke-width="0.08">80</text>
<line x1="651.92" y1="154.5" x2="651.92" y2="156.6" stroke="#333333" stroke-width="1.0"/>
<text x="651.92" y="144.6" font-size="6.5" text-anchor="middle" fill="#2E9FDF" stroke="#2E9FDF" stroke-width="0.08">3</text>
<text x="651.92" y="151.9" font-size="6.5" text-anchor="middle" fill="#E2AB2B" stroke="#E2AB2B" stroke-width="0.08">6</text>
<text x="651.92" y="165.4" font-size="7.8" text-anchor="middle" fill="#000" stroke="#000" stroke-width="0.08">120</text>
<line x1="678.9" y1="154.5" x2="678.9" y2="156.6" stroke="#333333" stroke-width="1.0"/>
<text x="678.9" y="144.6" font-size="6.5" text-anchor="middle" fill="#2E9FDF" stroke="#2E9FDF" stroke-width="0.08">0</text>
<text x="678.9" y="151.9" font-size="6.5" text-anchor="middle" fill="#E2AB2B" stroke="#E2AB2B" stroke-width="0.08">1</text>
<text x="678.9" y="165.4" font-size="7.8" text-anchor="middle" fill="#000" stroke="#000" stroke-width="0.08">160</text>
<text x="625.1" y="175.9" font-size="7.7" text-anchor="middle" fill="#000" stroke="#000" stroke-width="0.08">Time (months)</text>
<text x="281" y="224.4" font-size="10.2" text-anchor="middle" fill="#000" stroke="#000" stroke-width="0.05" font-weight="bold">h</text>
<text x="352.6" y="224.7" font-size="9.0" text-anchor="middle" fill="#000" stroke="#000" stroke-width="0.08">GDPH1</text>
<line x1="291.8" y1="229.5" x2="291.8" y2="327.9" stroke="#333333" stroke-width="1.0"/>
<line x1="291.3" y1="327.4" x2="412.5" y2="327.4" stroke="#333333" stroke-width="1.0"/>
<line x1="289.4" y1="234.2" x2="291.8" y2="234.2" stroke="#333333" stroke-width="1.0"/>
<text x="286.6" y="234.2" font-size="7.7" text-anchor="middle" fill="#000" stroke="#000" stroke-width="0.08" transform="rotate(-90 286.6 234.2)">1</text>
<line x1="289.4" y1="251.94" x2="291.8" y2="251.94" stroke="#333333" stroke-width="1.0"/>
<text x="286.6" y="251.94" font-size="7.7" text-anchor="middle" fill="#000" stroke="#000" stroke-width="0.08" transform="rotate(-90 286.6 251.94)">0.9</text>
<line x1="289.4" y1="269.68" x2="291.8" y2="269.68" stroke="#333333" stroke-width="1.0"/>
<text x="286.6" y="269.68" font-size="7.7" text-anchor="middle" fill="#000" stroke="#000" stroke-width="0.08" transform="rotate(-90 286.6 269.68)">0.8</text>
<line x1="289.4" y1="287.42" x2="291.8" y2="287.42" stroke="#333333" stroke-width="1.0"/>
<text x="286.6" y="287.42" font-size="7.7" text-anchor="middle" fill="#000" stroke="#000" stroke-width="0.08" transform="rotate(-90 286.6 287.42)">0.7</text>
<line x1="289.4" y1="305.16" x2="291.8" y2="305.16" stroke="#333333" stroke-width="1.0"/>
<text x="286.6" y="305.16" font-size="7.7" text-anchor="middle" fill="#000" stroke="#000" stroke-width="0.08" transform="rotate(-90 286.6 305.16)">0.6</text>
<line x1="289.4" y1="322.9" x2="291.8" y2="322.9" stroke="#333333" stroke-width="1.0"/>
<text x="286.6" y="322.9" font-size="7.7" text-anchor="middle" fill="#000" stroke="#000" stroke-width="0.08" transform="rotate(-90 286.6 322.9)">0.5</text>
<line x1="298.7" y1="327.4" x2="298.7" y2="329.6" stroke="#333333" stroke-width="1.0"/>
<line x1="325.68" y1="327.4" x2="325.68" y2="329.6" stroke="#333333" stroke-width="1.0"/>
<line x1="352.65" y1="327.4" x2="352.65" y2="329.6" stroke="#333333" stroke-width="1.0"/>
<line x1="379.62" y1="327.4" x2="379.62" y2="329.6" stroke="#333333" stroke-width="1.0"/>
<line x1="406.6" y1="327.4" x2="406.6" y2="329.6" stroke="#333333" stroke-width="1.0"/>
<text x="275.3" y="278.5" font-size="7.7" text-anchor="middle" fill="#000" stroke="#000" stroke-width="0.08" transform="rotate(-90 275.3 278.5)">Survival Probability</text>
<path d="M298.7 233.5H311.5V240.5H326.2V248.3H338.6V257.6H350.4V267.3H396.7" stroke="#E2AB2B" stroke-width="1.15" fill="none" stroke-linejoin="miter"/>
<path d="M302 233.5H319V234.9H346.5V237.7H399.3" stroke="#2E9FDF" stroke-width="1.15" fill="none" stroke-linejoin="miter"/>
<path d="M302.7 232.2V234.8M306.9 232.2V234.8M308.1 232.2V234.8M314.2 232.2V234.8M316 232.2V234.8M317.2 232.2V234.8M318 232.2V234.8M319 233.6V236.2M320.8 233.6V236.2M322.6 233.6V236.2M324.4 233.6V236.2M326.2 233.6V236.2M327.4 233.6V236.2M328.6 233.6V236.2M329.9 233.6V236.2M331.1 233.6V236.2M332.9 233.6V236.2M334.1 233.6V236.2M335.9 233.6V236.2M337.7 233.6V236.2M339.5 233.6V236.2M341.3 233.6V236.2M343.1 233.6V236.2M345 233.6V236.2M346.2 233.6V236.2M347.4 236.4V239M349.2 236.4V239M351 236.4V239M352.9 236.4V239M354.7 236.4V239M356.5 236.4V239M358.3 236.4V239M360.1 236.4V239M363.1 236.4V239M364.9 236.4V239M366.7 236.4V239M368.6 236.4V239M370.4 236.4V239M372.2 236.4V239M375.8 236.4V239M377.6 236.4V239M380 236.4V239M383.6 236.4V239M385.5 236.4V239M387.3 236.4V239M389.1 236.4V239M390.9 236.4V239M393.3 236.4V239M395.7 236.4V239M399.3 236.4V239" stroke="#2E9FDF" stroke-width="0.8" fill="none" />
<path d="M313 239.2V241.8M317.2 239.2V241.8M319 239.2V241.8M329.3 247V249.6M332.3 247V249.6M341.3 256.3V258.9M351 266V268.6M353.5 266V268.6M355.3 266V268.6M359.5 266V268.6M364.3 266V268.6M366.7 266V268.6M369.2 266V268.6M371.6 266V268.6M373.4 266V268.6M375.8 266V268.6M377 266V268.6M396.7 266V268.6" stroke="#E2AB2B" stroke-width="0.8" fill="none" />
<text x="307.3" y="312.8" font-size="9.0" text-anchor="start" fill="#000" stroke="#000" stroke-width="0.08"><tspan font-style="italic">p</tspan> = 0.0018</text>
<line x1="291.8" y1="335.2" x2="291.8" y2="350.5" stroke="#333333" stroke-width="1.0"/>
<line x1="291.3" y1="350" x2="412.5" y2="350" stroke="#333333" stroke-width="1.0"/>
<line x1="290" y1="338.2" x2="291.8" y2="338.2" stroke="#333333" stroke-width="1.0"/>
<line x1="290" y1="345.8" x2="291.8" y2="345.8" stroke="#333333" stroke-width="1.0"/>
<text x="286.8" y="340.2" font-size="6.3" text-anchor="end" fill="#2E9FDF" stroke="#2E9FDF" stroke-width="0.08">Low</text>
<text x="286.8" y="347.5" font-size="6.3" text-anchor="end" fill="#E2AB2B" stroke="#E2AB2B" stroke-width="0.08">High</text>
<line x1="298.7" y1="350" x2="298.7" y2="352.1" stroke="#333333" stroke-width="1.0"/>
<text x="298.7" y="340.1" font-size="6.5" text-anchor="middle" fill="#2E9FDF" stroke="#2E9FDF" stroke-width="0.08">148</text>
<text x="298.7" y="347.4" font-size="6.5" text-anchor="middle" fill="#E2AB2B" stroke="#E2AB2B" stroke-width="0.08">26</text>
<text x="298.7" y="360.9" font-size="7.8" text-anchor="middle" fill="#000" stroke="#000" stroke-width="0.08">0</text>
<line x1="325.68" y1="350" x2="325.68" y2="352.1" stroke="#333333" stroke-width="1.0"/>
<text x="325.68" y="340.1" font-size="6.5" text-anchor="middle" fill="#2E9FDF" stroke="#2E9FDF" stroke-width="0.08">115</text>
<text x="325.68" y="347.4" font-size="6.5" text-anchor="middle" fill="#E2AB2B" stroke="#E2AB2B" stroke-width="0.08">21</text>
<text x="325.68" y="360.9" font-size="7.8" text-anchor="middle" fill="#000" stroke="#000" stroke-width="0.08">20</text>
<line x1="352.65" y1="350" x2="352.65" y2="352.1" stroke="#333333" stroke-width="1.0"/>
<text x="352.65" y="340.1" font-size="6.5" text-anchor="middle" fill="#2E9FDF" stroke="#2E9FDF" stroke-width="0.08">41</text>
<text x="352.65" y="347.4" font-size="6.5" text-anchor="middle" fill="#E2AB2B" stroke="#E2AB2B" stroke-width="0.08">13</text>
<text x="352.65" y="360.9" font-size="7.8" text-anchor="middle" fill="#000" stroke="#000" stroke-width="0.08">40</text>
<line x1="379.62" y1="350" x2="379.62" y2="352.1" stroke="#333333" stroke-width="1.0"/>
<text x="379.62" y="340.1" font-size="6.5" text-anchor="middle" fill="#2E9FDF" stroke="#2E9FDF" stroke-width="0.08">6</text>
<text x="379.62" y="347.4" font-size="6.5" text-anchor="middle" fill="#E2AB2B" stroke="#E2AB2B" stroke-width="0.08">1</text>
<text x="379.62" y="360.9" font-size="7.8" text-anchor="middle" fill="#000" stroke="#000" stroke-width="0.08">60</text>
<line x1="406.6" y1="350" x2="406.6" y2="352.1" stroke="#333333" stroke-width="1.0"/>
<text x="406.6" y="340.1" font-size="6.5" text-anchor="middle" fill="#2E9FDF" stroke="#2E9FDF" stroke-width="0.08">0</text>
<text x="406.6" y="347.4" font-size="6.5" text-anchor="middle" fill="#E2AB2B" stroke="#E2AB2B" stroke-width="0.08">0</text>
<text x="406.6" y="360.9" font-size="7.8" text-anchor="middle" fill="#000" stroke="#000" stroke-width="0.08">80</text>
<text x="352.8" y="371.4" font-size="7.7" text-anchor="middle" fill="#000" stroke="#000" stroke-width="0.08">Time (months)</text>
<text x="417" y="224.4" font-size="10.2" text-anchor="middle" fill="#000" stroke="#000" stroke-width="0.05" font-weight="bold">i</text>
<text x="488.6" y="224.7" font-size="9.0" text-anchor="middle" fill="#000" stroke="#000" stroke-width="0.08">GDPH2</text>
<line x1="427.8" y1="229.5" x2="427.8" y2="327.9" stroke="#333333" stroke-width="1.0"/>
<line x1="427.3" y1="327.4" x2="548.5" y2="327.4" stroke="#333333" stroke-width="1.0"/>
<line x1="425.4" y1="234.2" x2="427.8" y2="234.2" stroke="#333333" stroke-width="1.0"/>
<line x1="425.4" y1="251.94" x2="427.8" y2="251.94" stroke="#333333" stroke-width="1.0"/>
<line x1="425.4" y1="269.68" x2="427.8" y2="269.68" stroke="#333333" stroke-width="1.0"/>
<line x1="425.4" y1="287.42" x2="427.8" y2="287.42" stroke="#333333" stroke-width="1.0"/>
<line x1="425.4" y1="305.16" x2="427.8" y2="305.16" stroke="#333333" stroke-width="1.0"/>
<line x1="425.4" y1="322.9" x2="427.8" y2="322.9" stroke="#333333" stroke-width="1.0"/>
<line x1="434.7" y1="327.4" x2="434.7" y2="329.6" stroke="#333333" stroke-width="1.0"/>
<line x1="461.68" y1="327.4" x2="461.68" y2="329.6" stroke="#333333" stroke-width="1.0"/>
<line x1="488.65" y1="327.4" x2="488.65" y2="329.6" stroke="#333333" stroke-width="1.0"/>
<line x1="515.62" y1="327.4" x2="515.62" y2="329.6" stroke="#333333" stroke-width="1.0"/>
<line x1="542.6" y1="327.4" x2="542.6" y2="329.6" stroke="#333333" stroke-width="1.0"/>
<path d="M437.1 233.5H446.5V239.7H457.4V245.3H463.6V249.8H466.1V256.4H468.2V262.2H500.3V272.7H501.5V283H505.5V294.1H506.2V304.7H535" stroke="#E2AB2B" stroke-width="1.15" fill="none" stroke-linejoin="miter"/>
<path d="M435.6 233.5H438.3V236.5H443.7V240.5H460.6V243.1H463V246.5H481.8V250.4H536.2" stroke="#2E9FDF" stroke-width="1.15" fill="none" stroke-linejoin="miter"/>
<path d="M436.1 232.2V234.8M439.5 235.2V237.8M443.7 239.2V241.8M454.6 239.2V241.8M462.4 241.8V244.4M469.7 245.2V247.8M478.7 245.2V247.8M480 245.2V247.8M483.6 249.1V251.7M486 249.1V251.7M487.9 249.1V251.7M489.7 249.1V251.7M491.5 249.1V251.7M493.3 249.1V251.7M495.7 249.1V251.7M497.5 249.1V251.7M499.3 249.1V251.7M501.1 249.1V251.7M502.9 249.1V251.7M504.8 249.1V251.7M506 249.1V251.7M507.2 249.1V251.7M509 249.1V251.7M510.8 249.1V251.7M512.6 249.1V251.7M514.4 249.1V251.7M516.2 249.1V251.7M518.6 249.1V251.7M521.1 249.1V251.7M523.5 249.1V251.7M525.9 249.1V251.7M528.3 249.1V251.7M530.7 249.1V251.7M533.1 249.1V251.7M535.6 249.1V251.7" stroke="#2E9FDF" stroke-width="0.8" fill="none" />
<path d="M452.8 238.4V241M470.3 260.9V263.5M475.1 260.9V263.5M479.3 260.9V263.5M484.2 260.9V263.5M489.1 260.9V263.5M490.3 260.9V263.5M491.5 260.9V263.5M494.5 260.9V263.5M498.1 260.9V263.5M511.4 303.4V306M512.9 303.4V306M515.8 303.4V306M518.8 303.4V306M520.2 303.4V306M521.7 303.4V306M526.1 303.4V306M534.2 303.4V306" stroke="#E2AB2B" stroke-width="0.8" fill="none" />
<text x="443.3" y="312.8" font-size="9.0" text-anchor="start" fill="#000" stroke="#000" stroke-width="0.08"><tspan font-style="italic">p</tspan> = 0.015</text>
<line x1="427.8" y1="335.2" x2="427.8" y2="350.5" stroke="#333333" stroke-width="1.0"/>
<line x1="427.3" y1="350" x2="548.5" y2="350" stroke="#333333" stroke-width="1.0"/>
<line x1="426" y1="338.2" x2="427.8" y2="338.2" stroke="#333333" stroke-width="1.0"/>
<line x1="426" y1="345.8" x2="427.8" y2="345.8" stroke="#333333" stroke-width="1.0"/>
<line x1="434.7" y1="350" x2="434.7" y2="352.1" stroke="#333333" stroke-width="1.0"/>
<text x="434.7" y="340.1" font-size="6.5" text-anchor="middle" fill="#2E9FDF" stroke="#2E9FDF" stroke-width="0.08">57</text>
<text x="434.7" y="347.4" font-size="6.5" text-anchor="middle" fill="#E2AB2B" stroke="#E2AB2B" stroke-width="0.08">32</text>
<text x="434.7" y="360.9" font-size="7.8" text-anchor="middle" fill="#000" stroke="#000" stroke-width="0.08">0</text>
<line x1="461.68" y1="350" x2="461.68" y2="352.1" stroke="#333333" stroke-width="1.0"/>
<text x="461.68" y="340.1" font-size="6.5" text-anchor="middle" fill="#2E9FDF" stroke="#2E9FDF" stroke-width="0.08">52</text>
<text x="461.68" y="347.4" font-size="6.5" text-anchor="middle" fill="#E2AB2B" stroke="#E2AB2B" stroke-width="0.08">29</text>
<text x="461.68" y="360.9" font-size="7.8" text-anchor="middle" fill="#000" stroke="#000" stroke-width="0.08">30</text>
<line x1="488.65" y1="350" x2="488.65" y2="352.1" stroke="#333333" stroke-width="1.0"/>
<text x="488.65" y="340.1" font-size="6.5" text-anchor="middle" fill="#2E9FDF" stroke="#2E9FDF" stroke-width="0.08">44</text>
<text x="488.65" y="347.4" font-size="6.5" text-anchor="middle" fill="#E2AB2B" stroke="#E2AB2B" stroke-width="0.08">20</text>
<text x="488.65" y="360.9" font-size="7.8" text-anchor="middle" fill="#000" stroke="#000" stroke-width="0.08">60</text>
<line x1="515.62" y1="350" x2="515.62" y2="352.1" stroke="#333333" stroke-width="1.0"/>
<text x="515.62" y="340.1" font-size="6.5" text-anchor="middle" fill="#2E9FDF" stroke="#2E9FDF" stroke-width="0.08">14</text>
<text x="515.62" y="347.4" font-size="6.5" text-anchor="middle" fill="#E2AB2B" stroke="#E2AB2B" stroke-width="0.08">6</text>
<text x="515.62" y="360.9" font-size="7.8" text-anchor="middle" fill="#000" stroke="#000" stroke-width="0.08">90</text>
<line x1="542.6" y1="350" x2="542.6" y2="352.1" stroke="#333333" stroke-width="1.0"/>
<text x="542.6" y="340.1" font-size="6.5" text-anchor="middle" fill="#2E9FDF" stroke="#2E9FDF" stroke-width="0.08">0</text>
<text x="542.6" y="347.4" font-size="6.5" text-anchor="middle" fill="#E2AB2B" stroke="#E2AB2B" stroke-width="0.08">0</text>
<text x="542.6" y="360.9" font-size="7.8" text-anchor="middle" fill="#000" stroke="#000" stroke-width="0.08">120</text>
<text x="488.8" y="371.4" font-size="7.7" text-anchor="middle" fill="#000" stroke="#000" stroke-width="0.08">Time (months)</text>
<text x="553" y="224.4" font-size="10.2" text-anchor="middle" fill="#000" stroke="#000" stroke-width="0.05" font-weight="bold">j</text>
<text x="624.6" y="224.7" font-size="9.0" text-anchor="middle" fill="#000" stroke="#000" stroke-width="0.08">SZPH</text>
<line x1="563.8" y1="229.5" x2="563.8" y2="327.9" stroke="#333333" stroke-width="1.0"/>
<line x1="563.3" y1="327.4" x2="684.5" y2="327.4" stroke="#333333" stroke-width="1.0"/>
<line x1="561.4" y1="234.2" x2="563.8" y2="234.2" stroke="#333333" stroke-width="1.0"/>
<line x1="561.4" y1="251.94" x2="563.8" y2="251.94" stroke="#333333" stroke-width="1.0"/>
<line x1="561.4" y1="269.68" x2="563.8" y2="269.68" stroke="#333333" stroke-width="1.0"/>
<line x1="561.4" y1="287.42" x2="563.8" y2="287.42" stroke="#333333" stroke-width="1.0"/>
<line x1="561.4" y1="305.16" x2="563.8" y2="305.16" stroke="#333333" stroke-width="1.0"/>
<line x1="561.4" y1="322.9" x2="563.8" y2="322.9" stroke="#333333" stroke-width="1.0"/>
<line x1="570.7" y1="327.4" x2="570.7" y2="329.6" stroke="#333333" stroke-width="1.0"/>
<line x1="597.67" y1="327.4" x2="597.67" y2="329.6" stroke="#333333" stroke-width="1.0"/>
<line x1="624.65" y1="327.4" x2="624.65" y2="329.6" stroke="#333333" stroke-width="1.0"/>
<line x1="651.62" y1="327.4" x2="651.62" y2="329.6" stroke="#333333" stroke-width="1.0"/>
<line x1="678.6" y1="327.4" x2="678.6" y2="329.6" stroke="#333333" stroke-width="1.0"/>
<path d="M571 233.5H581.3V242.5H582V246.5H602.5V253.3H627.9V263.5H628.7V274.4H641.6V289.2H650.7V306.7" stroke="#E2AB2B" stroke-width="1.15" fill="none" stroke-linejoin="miter"/>
<path d="M581.3 233.5H605.5V234.5H607.9V235.6H610.3V237.1H615.1V240.1H622.4V245.4H658" stroke="#2E9FDF" stroke-width="1.15" fill="none" stroke-linejoin="miter"/>
<path d="M583.5 232.2V234.8M584.2 232.2V234.8M584.9 232.2V234.8M585.6 232.2V234.8M586.3 232.2V234.8M587 232.2V234.8M587.7 232.2V234.8M588.4 232.2V234.8M589.1 232.2V234.8M589.8 232.2V234.8M590.5 232.2V234.8M591.2 232.2V234.8M591.9 232.2V234.8M592.6 232.2V234.8M593.3 232.2V234.8M594 232.2V234.8M594.7 232.2V234.8M595.4 232.2V234.8M596.1 232.2V234.8M596.8 232.2V234.8M597.5 232.2V234.8M598.2 232.2V234.8M598.9 232.2V234.8M599.6 232.2V234.8M600.3 232.2V234.8M601 232.2V234.8M601.7 232.2V234.8M602.4 232.2V234.8M603.1 232.2V234.8M603.8 232.2V234.8M604.5 232.2V234.8M605.2 232.2V234.8M605.9 233.2V235.8M584.3 232.2V234.8M585.5 232.2V234.8M586.7 232.2V234.8M587.9 232.2V234.8M589.1 232.2V234.8M590.3 232.2V234.8M591.5 232.2V234.8M592.7 232.2V234.8M593.9 232.2V234.8M595.1 232.2V234.8M596.3 232.2V234.8M597.5 232.2V234.8M598.7 232.2V234.8M599.9 232.2V234.8M601.1 232.2V234.8M602.3 232.2V234.8M603.5 232.2V234.8M604.7 232.2V234.8M607.9 234.3V236.9M609.7 234.3V236.9M611.5 235.8V238.4M613.3 235.8V238.4M615.7 238.8V241.4M617.6 238.8V241.4M619.4 238.8V241.4M621.2 238.8V241.4M626.8 244.1V246.7M631 244.1V246.7M633.8 244.1V246.7M638 244.1V246.7M642.3 244.1V246.7M646.5 244.1V246.7M650.7 244.1V246.7M656.3 244.1V246.7" stroke="#2E9FDF" stroke-width="0.8" fill="none" />
<path d="M584.3 245.2V247.8M587.4 245.2V247.8M588 245.2V247.8M590.4 245.2V247.8M594.6 245.2V247.8M603.7 252V254.6M609.1 252V254.6M610.9 252V254.6M612.7 252V254.6M617.6 252V254.6M621.1 252V254.6M631 273.1V275.7M636.6 273.1V275.7M642.3 287.9V290.5" stroke="#E2AB2B" stroke-width="0.8" fill="none" />
<text x="579.3" y="312.8" font-size="9.0" text-anchor="start" fill="#000" stroke="#000" stroke-width="0.08"><tspan font-style="italic">p</tspan> = 0.0015</text>
<line x1="563.8" y1="335.2" x2="563.8" y2="350.5" stroke="#333333" stroke-width="1.0"/>
<line x1="563.3" y1="350" x2="684.5" y2="350" stroke="#333333" stroke-width="1.0"/>
<line x1="562" y1="338.2" x2="563.8" y2="338.2" stroke="#333333" stroke-width="1.0"/>
<line x1="562" y1="345.8" x2="563.8" y2="345.8" stroke="#333333" stroke-width="1.0"/>
<line x1="570.7" y1="350" x2="570.7" y2="352.1" stroke="#333333" stroke-width="1.0"/>
<text x="570.7" y="340.1" font-size="6.5" text-anchor="middle" fill="#2E9FDF" stroke="#2E9FDF" stroke-width="0.08">246</text>
<text x="570.7" y="347.4" font-size="6.5" text-anchor="middle" fill="#E2AB2B" stroke="#E2AB2B" stroke-width="0.08">43</text>
<text x="570.7" y="360.9" font-size="7.8" text-anchor="middle" fill="#000" stroke="#000" stroke-width="0.08">0</text>
<line x1="597.67" y1="350" x2="597.67" y2="352.1" stroke="#333333" stroke-width="1.0"/>
<text x="597.67" y="340.1" font-size="6.5" text-anchor="middle" fill="#2E9FDF" stroke="#2E9FDF" stroke-width="0.08">164</text>
<text x="597.67" y="347.4" font-size="6.5" text-anchor="middle" fill="#E2AB2B" stroke="#E2AB2B" stroke-width="0.08">25</text>
<text x="597.67" y="360.9" font-size="7.8" text-anchor="middle" fill="#000" stroke="#000" stroke-width="0.08">40</text>
<line x1="624.65" y1="350" x2="624.65" y2="352.1" stroke="#333333" stroke-width="1.0"/>
<text x="624.65" y="340.1" font-size="6.5" text-anchor="middle" fill="#2E9FDF" stroke="#2E9FDF" stroke-width="0.08">31</text>
<text x="624.65" y="347.4" font-size="6.5" text-anchor="middle" fill="#E2AB2B" stroke="#E2AB2B" stroke-width="0.08">15</text>
<text x="624.65" y="360.9" font-size="7.8" text-anchor="middle" fill="#000" stroke="#000" stroke-width="0.08">80</text>
<line x1="651.62" y1="350" x2="651.62" y2="352.1" stroke="#333333" stroke-width="1.0"/>
<text x="651.62" y="340.1" font-size="6.5" text-anchor="middle" fill="#2E9FDF" stroke="#2E9FDF" stroke-width="0.08">2</text>
<text x="651.62" y="347.4" font-size="6.5" text-anchor="middle" fill="#E2AB2B" stroke="#E2AB2B" stroke-width="0.08">6</text>
<text x="651.62" y="360.9" font-size="7.8" text-anchor="middle" fill="#000" stroke="#000" stroke-width="0.08">120</text>
<line x1="678.6" y1="350" x2="678.6" y2="352.1" stroke="#333333" stroke-width="1.0"/>
<text x="678.6" y="340.1" font-size="6.5" text-anchor="middle" fill="#2E9FDF" stroke="#2E9FDF" stroke-width="0.08">0</text>
<text x="678.6" y="347.4" font-size="6.5" text-anchor="middle" fill="#E2AB2B" stroke="#E2AB2B" stroke-width="0.08">1</text>
<text x="678.6" y="360.9" font-size="7.8" text-anchor="middle" fill="#000" stroke="#000" stroke-width="0.08">160</text>
<text x="624.8" y="371.4" font-size="7.7" text-anchor="middle" fill="#000" stroke="#000" stroke-width="0.08">Time (months)</text>
</svg></body></html>
